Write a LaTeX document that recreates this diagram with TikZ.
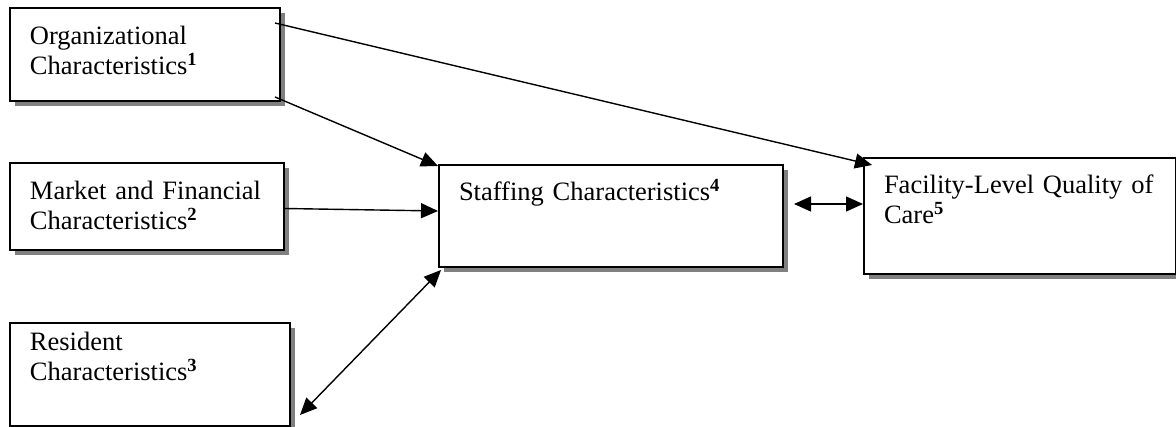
\documentclass[tikz,border=0pt]{standalone}
\usepackage{fontspec}
\setmainfont{Liberation Serif}
\usetikzlibrary{arrows.meta,shadows}

\begin{document}
\begin{tikzpicture}[
    x=1pt, y=-1pt,
    factor/.style={draw, line width=2pt, fill=white, anchor=north west, align=left,
        inner xsep=20pt, inner ysep=0pt, text height=37pt,
        font=\fontsize{26.5pt}{30pt}\selectfont,
        drop shadow={shadow xshift=5pt, shadow yshift=-5.5pt, fill=black!50, opacity=1}},
    link/.style={line width=1.4pt, >={Triangle[length=17pt,width=15pt]}}
]
    \useasboundingbox (0,0) rectangle (1176,427);

    % Organizational
    \node[factor, text width=230pt, text depth=56pt] (org) at (9,7) {
        Organizational\\
        Characteristics\textsuperscript{\textbf{1}}
    };

    % Market and financial
    \node[factor, text width=234pt, text depth=50pt] (market) at (9,162) {
        Market and Financial\\
        Characteristics\textsuperscript{\textbf{2}}
    };

    % Resident
    \node[factor, text width=240pt, text height=28pt, text depth=75pt] (resident) at (9,322) {
        Resident\\
        Characteristics\textsuperscript{\textbf{3}}
    };

    % Staffing
    \node[factor, text width=304pt, text height=36pt, text depth=66pt] (staff) at (438,164) {
        Staffing Characteristics\textsuperscript{\textbf{4}}
    };

    % Quality of care
    \node[factor, text width=272pt, text height=36pt, text depth=80pt] (care) at (863,157) {
        Facility-Level Quality of\\
        Care\textsuperscript{\textbf{5}}
    };

    % Arrows
    \draw[link, ->] ([xshift=-6pt,yshift=-16pt]org.north east) -- ([xshift=9pt,yshift=-8pt]care.north west);
    \draw[link, ->] ([xshift=-6pt,yshift=5pt]org.south east) -- ([yshift=-2pt]staff.north west);
    \draw[link, ->] ([yshift=-2pt]market.east) -- ([yshift=5pt]staff.west);
    \draw[link, <->] ([xshift=9pt,yshift=12pt]resident.south east) -- ([xshift=3pt,yshift=-2pt]staff.south west);
    \draw[link, <->] ([xshift=10pt,yshift=12pt]staff.east) -- ([yshift=12pt]care.west);

\end{tikzpicture}
\end{document}
